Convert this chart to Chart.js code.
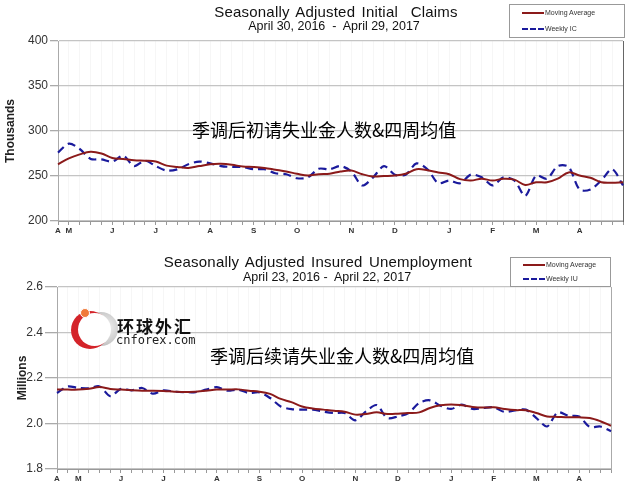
<!DOCTYPE html>
<html>
<head>
<meta charset="utf-8">
<script src="https://cdn.jsdelivr.net/npm/chart.js@4.4.1/dist/chart.umd.min.js"></script>
<style>
  html, body { margin: 0; padding: 0; background: #fff; }
  #page { position: relative; width: 629px; height: 486px; overflow: hidden; font-family: "Liberation Sans", Arial, sans-serif; color: #111; }
  canvas { position: absolute; left: 0; }
  .title { position: absolute; white-space: nowrap; transform: translateX(-50%); line-height: 1; }
  .main { font-size: 15px; letter-spacing: 0.2px; word-spacing: 2px; }
  .sub { font-size: 12.5px; }
  .legend { position: absolute; border: 1px solid #999; background: #fff; font-size: 7px; color: #333; }
  .legend .row { position: absolute; left: 12px; display: flex; align-items: center; white-space: nowrap; }
  .legend .sw { width: 22px; height: 0; margin-right: 1px; }
  .cn { position: absolute; font-family: "Noto Sans CJK SC", sans-serif; font-size: 18px; color: #000; white-space: nowrap; line-height: 1; }
  #logo { position: absolute; left: 70px; top: 305px; width: 130px; height: 46px; }
  #logo .ring { position: absolute; left: 1px; top: 6px; width: 38px; height: 38px; border-radius: 50%; background: #d4242a; }
  #logo .ring::after { content: ""; position: absolute; left: 7px; top: 2px; width: 33px; height: 33px; border-radius: 50%; background: #fff; }
  #logo .dot { position: absolute; left: 10px; top: 3px; width: 8px; height: 8px; border-radius: 50%; background: #f07a3a; border: 1px solid #fff; }
  #logo .ball { position: absolute; left: 14px; top: 7px; width: 34px; height: 34px; border-radius: 50%; background: radial-gradient(circle at 65% 45%, #f4f4f4, #bdbdbd 70%, #d8d8d8); }
  #logo .cnname { position: absolute; left: 47px; top: 8px; font-family: "Noto Sans CJK SC", serif; font-weight: 700; font-size: 17px; letter-spacing: 2px; color: #111; }
  #logo .en { position: absolute; left: 46px; top: 28px; font-family: "DejaVu Sans Mono", monospace; font-size: 12px; color: #222; }
</style>
</head>
<body>
<div id="page">
  <canvas id="claims-chart" width="629" height="243" style="top:0"></canvas>
  <canvas id="insured-chart" width="629" height="243" style="top:243px"></canvas>

  <div class="title main" style="left:336px;top:4px">Seasonally Adjusted Initial&nbsp; Claims</div>
  <div class="title sub" style="left:334px;top:20px">April 30, 2016&nbsp; -&nbsp; April 29, 2017</div>
  <div class="legend" style="left:509px;top:4px;width:114px;height:32px">
    <div class="row" style="top:4px"><span class="sw" style="border-top:2px solid #8b1a1a"></span>Moving Average</div>
    <div class="row" style="top:20px"><span class="sw" style="border-top:2px dashed #1a1a9c"></span>Weekly IC</div>
  </div>
  <div class="cn" style="left:192px;top:120px">季调后初请失业金人数&amp;四周均值</div>

  <div class="title main" style="left:318px;top:254px">Seasonally Adjusted Insured Unemployment</div>
  <div class="title sub" style="left:327px;top:271px">April 23, 2016 -&nbsp; April 22, 2017</div>
  <div class="legend" style="left:510px;top:257px;width:99px;height:28px">
    <div class="row" style="top:3px"><span class="sw" style="border-top:2px solid #8b1a1a"></span>Moving Average</div>
    <div class="row" style="top:17px"><span class="sw" style="border-top:2px dashed #1a1a9c"></span>Weekly IU</div>
  </div>
  <div id="logo">
    <div class="ball"></div>
    <div class="ring"></div>
    <div class="dot"></div>
    <div class="cnname">环球外汇</div>
    <div class="en">cnforex.com</div>
  </div>
  <div class="cn" style="left:210px;top:346px">季调后续请失业金人数&amp;四周均值</div>
</div>

<script>
// initial claims, thousands, weekly Apr 30 2016 .. Apr 29 2017
const icMovingAvg = [263, 269.5, 274, 277, 275, 270, 269, 267.5, 267, 266, 261.5, 260, 259, 261, 263, 263.5, 262.5, 260.5, 260, 259, 257, 255, 252.5, 250.5, 252, 252.5, 255, 256, 252, 249.5, 250, 250.5, 252.5, 257.5, 256.5, 254, 252, 246.5, 245, 247, 245, 247, 246, 240, 243, 243, 247, 254, 250.5, 248, 243, 242.5, 243];
const icWeekly = [276, 286, 280, 269, 268.5, 266, 272.5, 261, 267, 261, 256, 257.5, 263, 266, 264, 261, 260, 260, 257.5, 257.5, 253, 252, 247.5, 248.5, 258, 257.5, 261, 255, 239.5, 248.5, 261, 251.5, 251.5, 264, 257.5, 242, 245, 242, 251.5, 248.5, 239.5, 248.5, 245, 228, 250.5, 247, 261, 260, 235, 235, 245, 257.5, 239.5];
const icMonthIndex = [0, 1, 5, 9, 14, 18, 22, 27, 31, 36, 40, 44, 48];
const icMonthText = ["A", "M", "J", "J", "A", "S", "O", "N", "D", "J", "F", "M", "A"];

// insured unemployment, millions, weekly Apr 23 2016 .. Apr 22 2017
const iuMovingAvg = [2.149, 2.149, 2.149, 2.153, 2.16, 2.152, 2.149, 2.146, 2.144, 2.144, 2.143, 2.14, 2.138, 2.14, 2.144, 2.149, 2.149, 2.15, 2.144, 2.14, 2.13, 2.108, 2.094, 2.075, 2.066, 2.061, 2.056, 2.052, 2.039, 2.042, 2.049, 2.042, 2.043, 2.046, 2.049, 2.068, 2.08, 2.084, 2.08, 2.073, 2.07, 2.071, 2.064, 2.059, 2.058, 2.046, 2.031, 2.029, 2.027, 2.027, 2.024, 2.01, 1.99];
const iuWeekly = [2.134, 2.163, 2.156, 2.155, 2.163, 2.12, 2.152, 2.146, 2.156, 2.131, 2.146, 2.14, 2.138, 2.138, 2.149, 2.16, 2.144, 2.149, 2.134, 2.137, 2.112, 2.075, 2.063, 2.061, 2.061, 2.052, 2.046, 2.046, 2.014, 2.053, 2.081, 2.024, 2.031, 2.046, 2.09, 2.102, 2.078, 2.064, 2.083, 2.064, 2.068, 2.071, 2.051, 2.058, 2.061, 2.024, 1.987, 2.049, 2.034, 2.031, 1.985, 1.987, 1.966];
const iuMonthIndex = [0, 2, 6, 10, 15, 19, 23, 28, 32, 37, 41, 45, 49];
const iuMonthText = ["A", "M", "J", "J", "A", "S", "O", "N", "D", "J", "F", "M", "A"];

const FONT = "'Liberation Sans', Arial, sans-serif";
const RED = "#8b1a1a";
const BLUE = "#1a1a9c";

function weekLabels(count, index, text) {
  const labels = new Array(count).fill("");
  index.forEach((i, n) => { labels[i] = text[n]; });
  return labels;
}

function makeChart(canvas, opts) {
  return new Chart(canvas, {
    type: "line",
    data: {
      labels: opts.labels,
      datasets: [
        { label: "Moving Average", data: opts.avg, borderColor: RED, borderWidth: 2, pointRadius: 0, tension: 0.35 },
        { label: opts.weeklyName, data: opts.weekly, borderColor: BLUE, borderWidth: 2.2, borderDash: [8, 5], pointRadius: 0, tension: 0.3 },
      ],
    },
    options: {
      responsive: false,
      animation: false,
      devicePixelRatio: 1,
      layout: { padding: { top: opts.top, left: 0, right: 0, bottom: 0 } },
      plugins: { legend: { display: false }, tooltip: { enabled: false } },
      scales: {
        x: {
          offset: false,
          grid: { color: "rgba(0,0,0,0.035)", tickColor: "#999", tickLength: 4, drawTicks: true },
          border: { color: "#999" },
          ticks: {
            autoSkip: false, maxRotation: 0, padding: 1,
            font: { family: FONT, size: 8, weight: "bold" }, color: "#333",
            callback: (value, i) => opts.labels[i],
          },
          afterFit: (scale) => { scale.height = opts.xHeight; },
        },
        y: {
          min: opts.min, max: opts.max,
          ticks: {
            stepSize: opts.step, padding: 2,
            font: { family: FONT, size: 12 }, color: "#333",
            callback: opts.fmt,
          },
          grid: { color: "#c4c4c4", lineWidth: 1.3, tickColor: "#aaa", tickLength: opts.tickLen },
          border: { color: "#aaa" },
          title: {
            display: true, text: opts.yTitle, align: opts.titleAlign,
            font: { family: FONT, size: 12, weight: "bold" }, color: "#222",
            padding: { top: opts.titlePad, bottom: 0 },
          },
          afterFit: (scale) => { scale.width = opts.left; },
        },
        y2: {
          position: "right",
          min: opts.min, max: opts.max,
          ticks: { display: false },
          grid: { drawOnChartArea: false, drawTicks: false },
          border: { color: opts.rightColor },
          afterFit: (scale) => { scale.width = opts.right; },
        },
      },
    },
  });
}

makeChart(document.querySelector("#claims-chart"), {
  labels: weekLabels(icWeekly.length, icMonthIndex, icMonthText),
  avg: icMovingAvg,
  weekly: icWeekly,
  weeklyName: "Weekly IC",
  min: 200, max: 400, step: 50,
  fmt: (v) => v,
  yTitle: "Thousands",
  titleAlign: "center",
  titlePad: 3,
  top: 41, left: 58, right: 6, xHeight: 22, tickLen: 8,
  rightColor: "#666",
});

makeChart(document.querySelector("#insured-chart"), {
  labels: weekLabels(iuWeekly.length, iuMonthIndex, iuMonthText),
  avg: iuMovingAvg,
  weekly: iuWeekly,
  weeklyName: "Weekly IU",
  min: 1.8, max: 2.6, step: 0.2,
  fmt: (v) => Number(v).toFixed(1),
  yTitle: "Millions",
  titleAlign: "center",
  titlePad: 15,
  top: 44, left: 57, right: 18, xHeight: 17, tickLen: 12,
  rightColor: "#aaa",
});
</script>
</body>
</html>
